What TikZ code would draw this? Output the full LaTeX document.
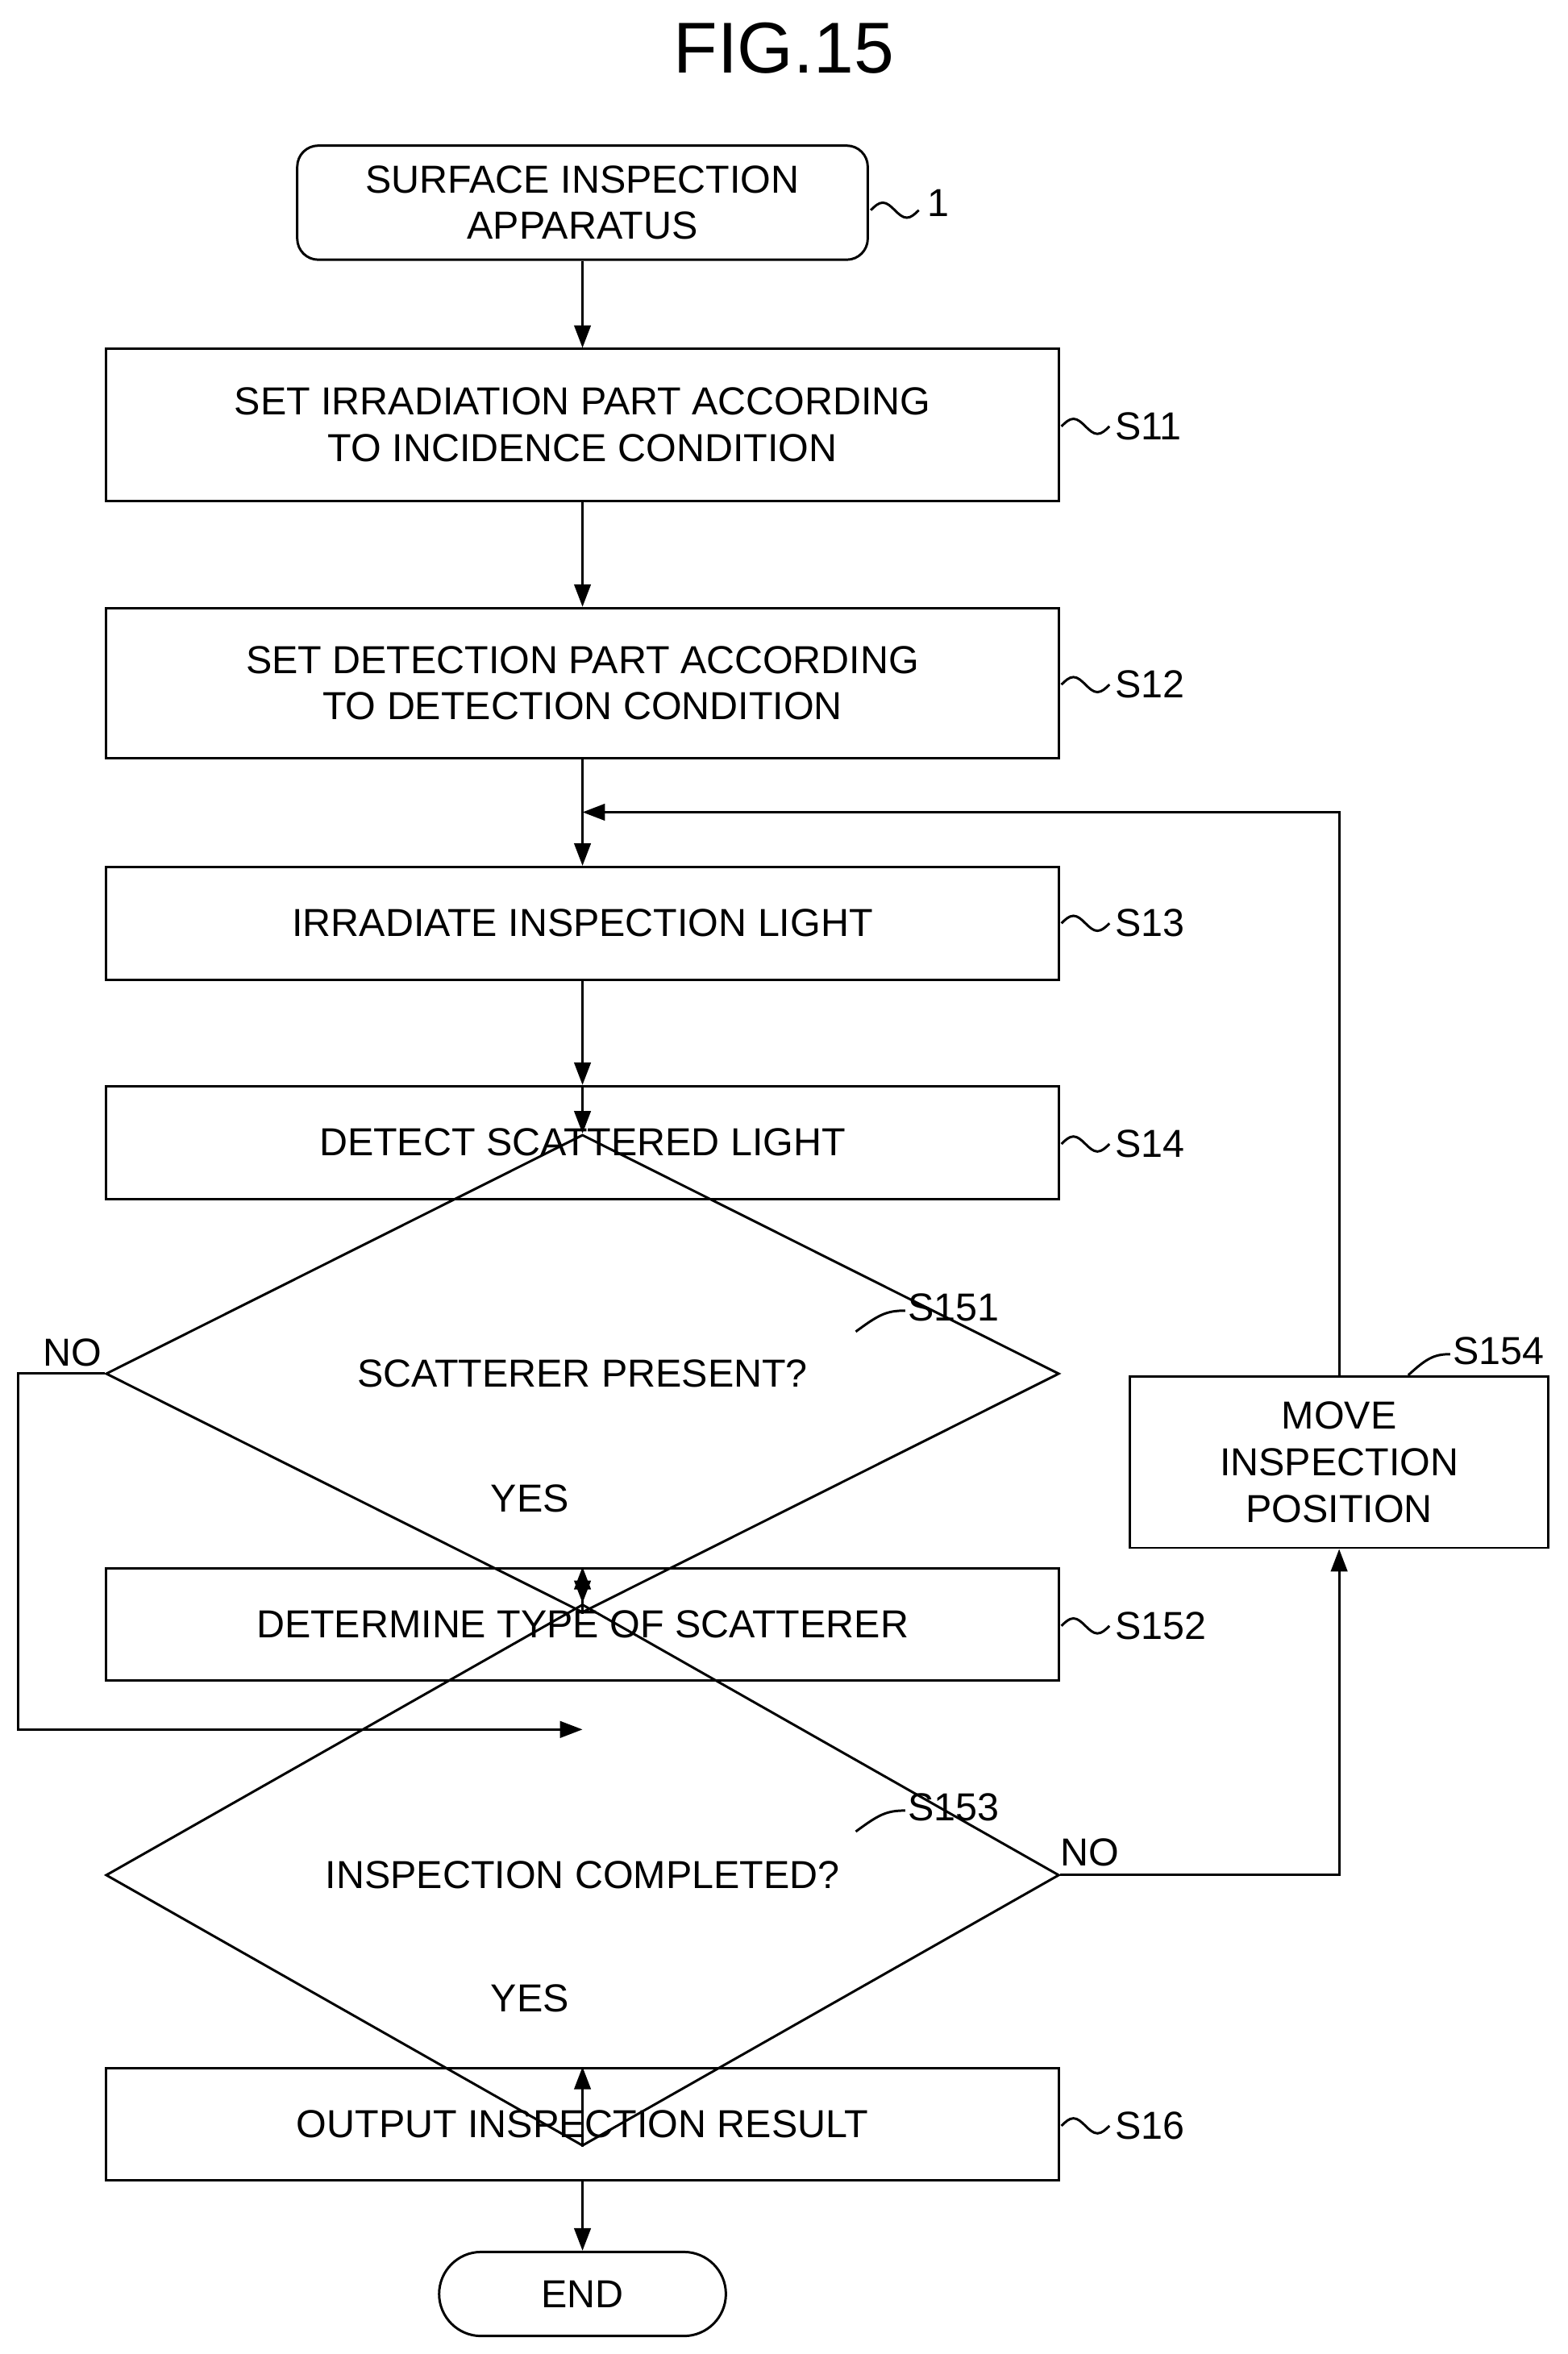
\documentclass[tikz,border=0pt]{standalone}
\usepackage{fontspec}
\setmainfont{Liberation Sans}
\usetikzlibrary{shapes.geometric,arrows.meta}
\tikzset{every picture/.style={line width=1.6pt}}
\tikzset{
  box/.style={draw,rectangle,minimum width=635,minimum height=75,inner sep=0,align=center,font=\fontsize{26}{31}\selectfont},
  dec/.style={draw,diamond,minimum width=635,minimum height=126,inner sep=0,font=\fontsize{26}{31}\selectfont},
  lbl/.style={anchor=west,inner sep=0,font=\fontsize{26}{31}\selectfont},
  arr/.style={-{Triangle[length=15,width=11]}}
}
\newcommand\wave[1]{\draw (#1) sin ++(8,-5) cos ++(8,5) sin ++(8,5) cos ++(8,-5);}
\begin{document}
\begin{tikzpicture}[x=1pt,y=1pt,yscale=-1]
\useasboundingbox (0,0) rectangle (1044,1568);

% Title
\node (fig) at (522,32) [font=\fontsize{48}{56}\selectfont] {FIG.15};

% Nodes
\node (start) at (388,135) [box,rounded corners=14,minimum width=380,minimum height=76] {SURFACE INSPECTION\\APPARATUS};
\node (s11) at (388,283) [box,minimum height=101] {SET IRRADIATION PART ACCORDING\\TO INCIDENCE CONDITION};
\node (s12) at (388,455) [box,minimum height=100] {SET DETECTION PART ACCORDING\\TO DETECTION CONDITION};
\node (s13) at (388,615) [box] {IRRADIATE INSPECTION LIGHT};
\node (s14) at (388,761) [box] {DETECT SCATTERED LIGHT};
\node (s151) at (388,915) [dec] {SCATTERER PRESENT?};
\node (s152) at (388,1082) [box] {DETERMINE TYPE OF SCATTERER};
\node (s153) at (388,1249) [dec] {INSPECTION COMPLETED?};
\node (s154) at (892,974) [box,minimum width=279,minimum height=114] {MOVE\\INSPECTION\\POSITION};
\node (s16) at (388,1415) [box] {OUTPUT INSPECTION RESULT};
\node (end) at (388,1528) [box,rounded corners=28,minimum width=191,minimum height=56] {END};

\coordinate (merge1) at (388,541);
\coordinate (merge2) at (388,1152);

% Connectors
\draw [arr] (start) -- (s11);
\draw [arr] (s11) -- (s12);
\draw [arr] (s12) -- (s13);
\draw [arr] (s13) -- (s14);
\draw [arr] (s14) -- (s151);
\draw [arr] (s151) -- (s152);
\draw [arr] (s152) -- (s153);
\draw [arr] (s153) -- (s16);
\draw [arr] (s16) -- (end);
\draw [arr] (s151.west) -| (12,1152) -- (merge2);
\draw [arr] (s153.east) -| (s154.south);
\draw [arr] (s154.north) |- (merge1);

% Step labels
\wave{580,140} \node (l1) at (617,135) [lbl] {1};
\wave{707,284} \node (l11) at (742,284) [lbl] {S11};
\wave{707,456} \node (l12) at (742,456) [lbl] {S12};
\wave{707,615} \node (l13) at (742,615) [lbl] {S13};
\wave{707,762} \node (l14) at (742,762) [lbl] {S14};
\wave{707,1083} \node (l152) at (742,1083) [lbl] {S152};
\wave{707,1416} \node (l16) at (742,1416) [lbl] {S16};
\draw (570,887) .. controls (585,876) and (590,873) .. (603,873);
\node (l151) at (604,871) [lbl] {S151};
\draw (570,1220) .. controls (585,1209) and (590,1206) .. (603,1206);
\node (l153) at (604,1204) [lbl] {S153};
\draw (938,916) .. controls (950,905) and (955,902) .. (966,902);
\node (l154) at (967,900) [lbl] {S154};

% Branch labels
\node (no1) at (48,901) [font=\fontsize{26}{31}\selectfont] {NO};
\node (yes1) at (353,998) [font=\fontsize{26}{31}\selectfont] {YES};
\node (no2) at (726,1234) [font=\fontsize{26}{31}\selectfont] {NO};
\node (yes2) at (353,1331) [font=\fontsize{26}{31}\selectfont] {YES};
\end{tikzpicture}
\end{document}
